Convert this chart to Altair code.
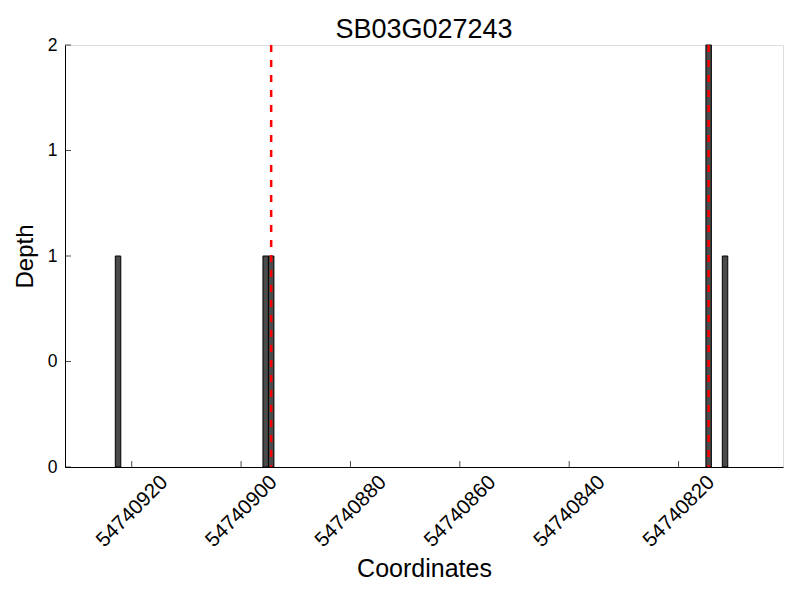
import altair as alt
import pandas as pd

# Data
bar_start = [54740922, 54740895, 54740894, 54740814, 54740811]
bar_depth = [1, 1, 1, 2, 1]
marker_pos = [54740894.5, 54740814.5]
x_ticks = [54740820, 54740840, 54740860, 54740880, 54740900, 54740920]
y_ticks = [0, 0.5, 1, 1.5, 2]

W, H = 718, 422
FONT = "Liberation Sans"

bars_df = pd.DataFrame({"start": bar_start, "end": [s + 1 for s in bar_start], "depth": bar_depth})
mark_df = pd.DataFrame({"pos": marker_pos})
xt_df = pd.DataFrame({"t": x_ticks})
yt_df = pd.DataFrame({"t": y_ticks})

xscale = alt.Scale(domain=[54740800.9, 54740932.2], reverse=True, nice=False, zero=False)
yscale = alt.Scale(domain=[0, 2], nice=False)

xaxis = alt.Axis(values=x_ticks, format="d", labelAngle=-45, labelAlign="center",
                 labelBaseline="middle", labelPadding=44, tickSize=0, grid=False,
                 title="Coordinates", titleFontSize=25, titleFontWeight="normal",
                 titlePadding=6, labelFontSize=20.5, domainColor="black", labelColor="black",
                 titleColor="black", labelFont=FONT, titleFont=FONT)
yaxis = alt.Axis(values=y_ticks, labelExpr="floor(datum.value)", tickSize=0, grid=False,
                 title="Depth", titleFontSize=24, titleFontWeight="normal", labelPadding=8,
                 titlePadding=10, labelFontSize=17.5, domainColor="black", labelColor="black",
                 titleColor="black", labelFont=FONT, titleFont=FONT)

bars = alt.Chart(bars_df).mark_rect(fill="#4a4a4a", stroke="black", strokeWidth=1).encode(
    x=alt.X("start:Q", scale=xscale, axis=xaxis),
    x2="end:Q",
    y=alt.Y("depth:Q", scale=yscale, axis=yaxis),
    y2=alt.datum(0),
)

rules = alt.Chart(mark_df).mark_rule(color="#ff0000", strokeWidth=2.5, strokeDash=[7, 8]).encode(
    x=alt.X("pos:Q", scale=xscale)
)

xt = alt.Chart(xt_df).mark_tick(color="black", size=6, thickness=1, orient="vertical").encode(
    x=alt.X("t:Q", scale=xscale), y=alt.value(H - 3)
)
yt = alt.Chart(yt_df).mark_tick(color="black", size=6, thickness=1, orient="horizontal").encode(
    y=alt.Y("t:Q", scale=yscale), x=alt.value(3)
)

chart = alt.layer(bars, rules, xt, yt).properties(
    width=W, height=H,
    title=alt.TitleParams("SB03G027243", fontSize=27, font=FONT, fontWeight="normal",
                          color="black", offset=-8, frame="group"),
    autosize=alt.AutoSizeParams(type="none"),
    padding={"left": 57, "top": 37, "right": 9, "bottom": 125},
).configure_view(stroke=None).configure(background="white")

chart.save("out.html", embed_options={"renderer": "svg", "actions": False})
